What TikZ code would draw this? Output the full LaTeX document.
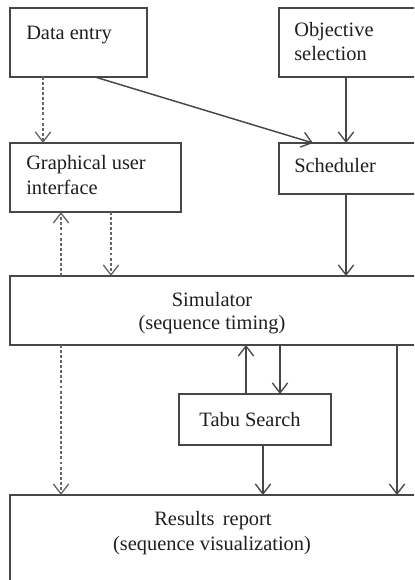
\documentclass[tikz,border=0pt]{standalone}
\usepackage{fontspec}
\setmainfont{Liberation Serif}
\usetikzlibrary{arrows.meta,calc}
\begin{document}
\begin{tikzpicture}[x=0.75pt,y=-0.75pt,
  box/.style={draw=black!72,line width=1.2pt,rectangle,inner sep=0pt,outer sep=0pt,anchor=north west},
  lbl/.style={inner sep=0pt,font=\fontsize{15.3}{18}\selectfont,text=black!88},
  arr/.style={draw=black!72,line width=1.1pt,-{Straight Barb[length=7.5pt,width=11.5pt,line width=1pt]}},
  darr/.style={arr,draw=black!60,line width=0.9pt,dash pattern=on 2.2pt off 1.6pt}]
\useasboundingbox (0,0) rectangle (414,580);
\fill[white] (0,0) rectangle (414,580);
\clip (0,0) rectangle (414,580);
% boxes
\node[box,minimum width=102.75pt,minimum height=51.75pt] (data) at (10,8) {};
\node[box,minimum width=105.75pt,minimum height=51.75pt] (obj) at (279,8) {};
\node[box,minimum width=128.25pt,minimum height=51.75pt] (gui) at (10,143) {};
\node[box,minimum width=105.75pt,minimum height=38.25pt] (sched) at (279,143) {};
\node[box,minimum width=307.5pt,minimum height=51.75pt] (sim) at (10,276) {};
\node[box,minimum width=114pt,minimum height=38.25pt] (tabu) at (179,394) {};
\node[box,minimum width=307.5pt,minimum height=71.25pt] (res) at (10,495) {};
% labels
\node[lbl,anchor=base west] (dataT) at (26,40) {Data entry};
\node[lbl,anchor=base west] (objT1) at (294,37) {Objective};
\node[lbl,anchor=base west] (objT2) at (294,61) {selection};
\node[lbl,anchor=base west] (guiT1) at (26,170) {Graphical user};
\node[lbl,anchor=base west] (guiT2) at (26,195) {interface};
\node[lbl,anchor=base west] (schedT) at (294,173) {Scheduler};
\node[lbl,anchor=base] (simT1) at (212,306) {Simulator};
\node[lbl,anchor=base] (simT2) at (212,329) {(sequence timing)};
\node[lbl,anchor=base] (tabuT) at (250,426) {Tabu Search};
\node[lbl,anchor=base] (resT1) at (213,525) {Results\, report};
\node[lbl,anchor=base] (resT2) at (212,550) {(sequence visualization)};
% connectors
\draw[darr] ($(data.south west)+(33,0)$) -- ($(gui.north west)+(33,0)$);
\draw[arr] ($(data.south west)+(85,0)$) -- ($(sched.north west)+(34,0)$);
\draw[arr] ($(obj.south west)+(67,0)$) -- ($(sched.north west)+(67,0)$);
\draw[darr] ($(gui.south west)+(101,0)$) -- ($(sim.north west)+(101,0)$);
\draw[darr] ($(sim.north west)+(51,0)$) -- ($(gui.south west)+(51,0)$);
\draw[arr] ($(sched.south west)+(67,0)$) -- ($(sim.north west)+(336,0)$);
\draw[arr] ($(tabu.north west)+(67,0)$) -- ($(sim.south west)+(236,0)$);
\draw[arr] ($(sim.south west)+(270,0)$) -- ($(tabu.north west)+(101,0)$);
\draw[darr] ($(sim.south west)+(51,0)$) -- ($(res.north west)+(51,0)$);
\draw[arr] ($(tabu.south west)+(84,0)$) -- ($(res.north west)+(253,0)$);
\draw[arr] ($(sim.south west)+(387,0)$) -- ($(res.north west)+(387,0)$);
\end{tikzpicture}
\end{document}
